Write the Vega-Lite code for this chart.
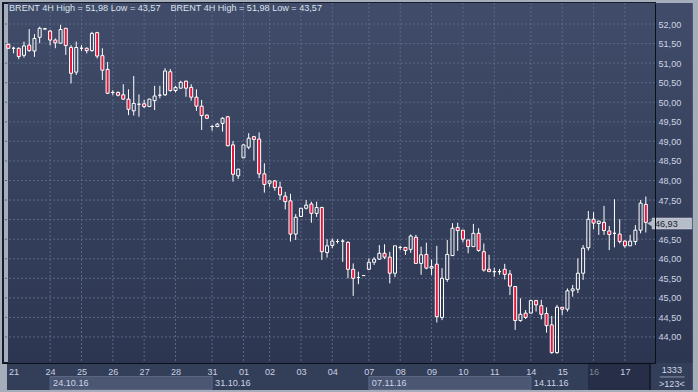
{
 "$schema": "https://vega.github.io/schema/vega-lite/v6.json",
 "width": 652,
 "height": 360,
 "autosize": "none",
 "padding": {"left": 3, "top": 3, "right": 43, "bottom": 29},
 "background": "#a5adba",
 "config": {"view": {"stroke": "#151b29", "strokeWidth": 2}, "text": {"font": "Liberation Sans"}},
 "resolve": {"axis": {"x": "independent", "y": "independent"}},
 "datasets": {
  "candles": [
   {"i":0,"o":51.48,"h":51.50,"l":51.37,"c":51.38},
   {"i":1,"o":51.38,"h":51.42,"l":51.25,"c":51.38},
   {"i":2,"o":51.38,"h":51.40,"l":51.10,"c":51.17},
   {"i":3,"o":51.20,"h":51.55,"l":51.14,"c":51.44},
   {"i":4,"o":51.46,"h":51.87,"l":51.29,"c":51.32},
   {"i":5,"o":51.31,"h":51.74,"l":51.16,"c":51.63},
   {"i":6,"o":51.66,"h":51.93,"l":51.51,"c":51.89},
   {"i":7,"o":51.87,"h":51.90,"l":51.86,"c":51.88},
   {"i":8,"o":51.82,"h":51.85,"l":51.45,"c":51.59},
   {"i":9,"o":51.59,"h":51.63,"l":51.38,"c":51.52},
   {"i":10,"o":51.51,"h":51.98,"l":51.50,"c":51.86},
   {"i":11,"o":51.89,"h":51.90,"l":51.21,"c":51.45},
   {"i":12,"o":51.40,"h":51.46,"l":50.48,"c":50.74},
   {"i":13,"o":50.77,"h":51.55,"l":50.70,"c":51.40},
   {"i":14,"o":51.38,"h":51.46,"l":51.31,"c":51.38},
   {"i":15,"o":51.38,"h":51.40,"l":51.25,"c":51.32},
   {"i":16,"o":51.32,"h":51.80,"l":51.29,"c":51.76},
   {"i":17,"o":51.78,"h":51.80,"l":51.12,"c":51.18},
   {"i":18,"o":51.19,"h":51.38,"l":50.57,"c":50.82},
   {"i":19,"o":50.84,"h":51.03,"l":50.21,"c":50.23},
   {"i":20,"o":50.25,"h":50.31,"l":50.18,"c":50.25},
   {"i":21,"o":50.25,"h":50.28,"l":50.15,"c":50.18},
   {"i":22,"o":50.19,"h":50.46,"l":50.06,"c":50.08},
   {"i":23,"o":50.08,"h":50.33,"l":49.67,"c":49.82},
   {"i":24,"o":49.78,"h":50.67,"l":49.66,"c":49.97},
   {"i":25,"o":49.95,"h":50.20,"l":49.63,"c":49.95},
   {"i":26,"o":49.96,"h":50.06,"l":49.85,"c":49.89},
   {"i":27,"o":49.89,"h":50.09,"l":49.88,"c":50.08},
   {"i":28,"o":50.04,"h":50.42,"l":49.80,"c":50.16},
   {"i":29,"o":50.18,"h":50.42,"l":50.10,"c":50.18},
   {"i":30,"o":50.19,"h":50.87,"l":50.16,"c":50.80},
   {"i":31,"o":50.78,"h":50.85,"l":50.27,"c":50.30},
   {"i":32,"o":50.30,"h":50.42,"l":50.25,"c":50.38},
   {"i":33,"o":50.36,"h":50.55,"l":50.35,"c":50.51},
   {"i":34,"o":50.54,"h":50.55,"l":50.14,"c":50.36},
   {"i":35,"o":50.38,"h":50.46,"l":50.04,"c":50.13},
   {"i":36,"o":50.13,"h":50.33,"l":49.78,"c":49.90},
   {"i":37,"o":49.90,"h":50.06,"l":49.29,"c":49.66},
   {"i":38,"o":49.67,"h":49.69,"l":49.57,"c":49.59},
   {"i":39,"o":49.38,"h":49.42,"l":49.27,"c":49.38},
   {"i":40,"o":49.38,"h":49.47,"l":49.36,"c":49.44},
   {"i":41,"o":49.46,"h":49.62,"l":49.25,"c":49.59},
   {"i":42,"o":49.63,"h":49.65,"l":48.87,"c":48.89},
   {"i":43,"o":48.91,"h":49.01,"l":47.97,"c":48.16},
   {"i":44,"o":48.12,"h":48.30,"l":48.04,"c":48.29},
   {"i":45,"o":48.58,"h":48.92,"l":48.58,"c":48.91},
   {"i":46,"o":48.85,"h":49.21,"l":48.80,"c":49.08},
   {"i":47,"o":49.12,"h":49.14,"l":48.51,"c":49.05},
   {"i":48,"o":49.06,"h":49.23,"l":48.06,"c":48.17},
   {"i":49,"o":48.17,"h":48.44,"l":47.69,"c":47.90},
   {"i":50,"o":47.93,"h":47.99,"l":47.84,"c":47.99},
   {"i":51,"o":47.99,"h":48.01,"l":47.74,"c":47.82},
   {"i":52,"o":47.83,"h":47.97,"l":47.50,"c":47.63},
   {"i":53,"o":47.60,"h":47.71,"l":47.26,"c":47.46},
   {"i":54,"o":47.48,"h":47.66,"l":46.44,"c":46.63},
   {"i":55,"o":46.63,"h":47.14,"l":46.48,"c":47.06},
   {"i":56,"o":47.08,"h":47.29,"l":47.07,"c":47.29},
   {"i":57,"o":47.29,"h":47.50,"l":47.26,"c":47.37},
   {"i":58,"o":47.40,"h":47.46,"l":46.92,"c":47.16},
   {"i":59,"o":47.16,"h":47.46,"l":47.07,"c":47.31},
   {"i":60,"o":47.31,"h":47.33,"l":45.97,"c":46.18},
   {"i":61,"o":46.16,"h":46.50,"l":46.03,"c":46.33},
   {"i":62,"o":46.34,"h":46.52,"l":46.27,"c":46.45},
   {"i":63,"o":46.44,"h":46.50,"l":46.39,"c":46.44},
   {"i":64,"o":46.45,"h":46.50,"l":45.92,"c":46.45},
   {"i":65,"o":46.42,"h":46.44,"l":45.50,"c":45.73},
   {"i":66,"o":45.73,"h":45.88,"l":45.05,"c":45.50},
   {"i":67,"o":45.52,"h":45.67,"l":45.35,"c":45.52},
   {"i":68,"o":45.57,"h":45.57,"l":45.57,"c":45.57},
   {"i":69,"o":45.73,"h":46.01,"l":45.71,"c":45.91},
   {"i":70,"o":45.91,"h":46.04,"l":45.84,"c":45.99},
   {"i":71,"o":45.99,"h":46.35,"l":45.97,"c":46.14},
   {"i":72,"o":46.14,"h":46.37,"l":45.99,"c":46.04},
   {"i":73,"o":46.04,"h":46.18,"l":45.37,"c":45.63},
   {"i":74,"o":45.63,"h":46.33,"l":45.53,"c":46.33},
   {"i":75,"o":46.29,"h":46.33,"l":46.22,"c":46.29},
   {"i":76,"o":46.29,"h":46.30,"l":46.10,"c":46.21},
   {"i":77,"o":46.24,"h":46.62,"l":46.15,"c":46.58},
   {"i":78,"o":46.55,"h":46.61,"l":45.87,"c":45.88},
   {"i":79,"o":45.88,"h":46.31,"l":45.59,"c":46.10},
   {"i":80,"o":46.11,"h":46.41,"l":45.73,"c":45.76},
   {"i":81,"o":45.76,"h":45.98,"l":45.58,"c":45.80},
   {"i":82,"o":45.86,"h":46.33,"l":44.37,"c":44.52},
   {"i":83,"o":44.50,"h":45.76,"l":44.43,"c":45.50},
   {"i":84,"o":45.47,"h":46.48,"l":45.41,"c":46.11},
   {"i":85,"o":46.08,"h":46.91,"l":46.07,"c":46.78},
   {"i":86,"o":46.80,"h":46.92,"l":46.20,"c":46.72},
   {"i":87,"o":46.73,"h":46.73,"l":46.42,"c":46.50},
   {"i":88,"o":46.48,"h":46.48,"l":46.14,"c":46.31},
   {"i":89,"o":46.31,"h":46.89,"l":46.31,"c":46.65},
   {"i":90,"o":46.65,"h":46.78,"l":46.18,"c":46.21},
   {"i":91,"o":46.18,"h":46.39,"l":45.67,"c":45.71},
   {"i":92,"o":45.73,"h":46.10,"l":45.67,"c":45.67},
   {"i":93,"o":45.67,"h":45.77,"l":45.54,"c":45.67},
   {"i":94,"o":45.67,"h":45.74,"l":45.59,"c":45.67},
   {"i":95,"o":45.73,"h":45.87,"l":45.47,"c":45.60},
   {"i":96,"o":45.61,"h":45.71,"l":45.07,"c":45.30},
   {"i":97,"o":45.29,"h":45.29,"l":44.18,"c":44.42},
   {"i":98,"o":44.42,"h":44.99,"l":44.39,"c":44.58},
   {"i":99,"o":44.61,"h":44.69,"l":44.46,"c":44.50},
   {"i":100,"o":44.61,"h":44.95,"l":44.60,"c":44.93},
   {"i":101,"o":44.93,"h":44.95,"l":44.65,"c":44.82},
   {"i":102,"o":44.80,"h":44.95,"l":44.45,"c":44.58},
   {"i":103,"o":44.60,"h":44.76,"l":44.11,"c":44.29},
   {"i":104,"o":44.31,"h":44.54,"l":43.57,"c":43.60},
   {"i":105,"o":43.60,"h":44.82,"l":43.57,"c":44.76},
   {"i":106,"o":44.76,"h":44.76,"l":44.56,"c":44.71},
   {"i":107,"o":44.71,"h":45.24,"l":44.65,"c":45.18},
   {"i":108,"o":45.18,"h":45.33,"l":45.03,"c":45.23},
   {"i":109,"o":45.22,"h":46.01,"l":45.12,"c":45.63},
   {"i":110,"o":45.63,"h":46.35,"l":45.46,"c":46.27},
   {"i":111,"o":46.28,"h":47.22,"l":46.21,"c":47.01},
   {"i":112,"o":47.01,"h":47.19,"l":46.75,"c":46.91},
   {"i":113,"o":46.90,"h":46.97,"l":46.61,"c":46.96},
   {"i":114,"o":46.93,"h":47.35,"l":46.61,"c":46.72},
   {"i":115,"o":46.71,"h":46.84,"l":46.22,"c":46.62},
   {"i":116,"o":46.65,"h":47.52,"l":46.29,"c":46.65},
   {"i":117,"o":46.63,"h":47.01,"l":46.39,"c":46.44},
   {"i":118,"o":46.45,"h":46.47,"l":46.28,"c":46.33},
   {"i":119,"o":46.33,"h":46.61,"l":46.33,"c":46.45},
   {"i":120,"o":46.44,"h":46.86,"l":46.35,"c":46.73},
   {"i":121,"o":46.73,"h":47.50,"l":46.65,"c":47.42},
   {"i":122,"o":47.39,"h":47.59,"l":46.67,"c":46.93}
  ],
  "vgrid": [{"i":8},{"i":14},{"i":20},{"i":26},{"i":32},{"i":39},{"i":45},{"i":50},{"i":56},{"i":62},{"i":69},{"i":75},{"i":81},{"i":87},{"i":93},{"i":100},{"i":106},{"i":112},{"i":118}],
  "hgrid": [{"p":44},{"p":44.5},{"p":45},{"p":45.5},{"p":46},{"p":46.5},{"p":47},{"p":47.5},{"p":48},{"p":48.5},{"p":49},{"p":49.5},{"p":50},{"p":50.5},{"p":51},{"p":51.5},{"p":52}],
  "weeks": [{"i":8,"label":"24.10.16"},{"i":39,"label":"31.10.16"},{"i":69,"label":"07.11.16"},{"i":100,"label":"14.11.16"}],
  "bands": [{"a":8,"b":39},{"a":69,"b":100}],
  "last": [{"label":"46,93"}],
  "corner": [{"bars":"1333","shown":">123<"}],
  "header": [{"label":"BRENT 4H High = 51,98 Low = 43,57"}]
 },
 "layer": [
  {
   "data": {"values": [{}]},
   "mark": {"type": "rect", "clip": false, "fill": {"gradient": "linear", "x1": 0, "y1": 0, "x2": 0, "y2": 1, "stops": [{"offset": 0, "color": "#404c69"}, {"offset": 1, "color": "#2c3651"}]}},
   "encoding": {
    "x": {"datum": -0.06, "type": "quantitative", "scale": {"domain": [-0.06, 122.8], "nice": false, "zero": false}, "axis": null},
    "x2": {"datum": 131},
    "y": {"datum": 52.537, "type": "quantitative", "scale": {"domain": [43.335, 52.537], "nice": false, "zero": false}, "axis": null},
    "y2": {"datum": 43.335}
   }
  },
  {
   "data": {"values": [{}]},
   "mark": {"type": "rect", "clip": false, "fill": "#333e59"},
   "encoding": {
    "x": {"datum": -0.25, "type": "quantitative", "axis": null},
    "x2": {"datum": 131},
    "y": {"datum": 43.335, "type": "quantitative", "axis": null},
    "y2": {"datum": 42.646}
   }
  },
  {
   "data": {"name": "bands"},
   "mark": {"type": "rect", "clip": false, "fill": "#4a5672", "stroke": "#5b6783", "strokeWidth": 1},
   "encoding": {
    "x": {"field": "a", "type": "quantitative", "axis": null},
    "x2": {"field": "b"},
    "y": {"datum": 42.99, "type": "quantitative", "axis": null},
    "y2": {"datum": 42.66}
   }
  },
  {
   "data": {"values": [{}]},
   "mark": {"type": "rect", "clip": false, "fill": "#262f47", "stroke": "#1f273b", "strokeWidth": 1},
   "encoding": {
    "x": {"datum": 111.1, "type": "quantitative", "axis": null},
    "x2": {"datum": 122.8},
    "y": {"datum": 43.33, "type": "quantitative", "axis": null},
    "y2": {"datum": 42.67}
   }
  },
  {
   "data": {"values": [{}]},
   "mark": {"type": "rule", "color": "#0b0f18", "strokeWidth": 1, "clip": false},
   "encoding": {
    "x": {"datum": 122.8, "type": "quantitative", "axis": null},
    "y": {"datum": 43.335, "type": "quantitative", "axis": null},
    "y2": {"datum": 42.646}
   }
  },
  {
   "data": {"name": "vgrid"},
   "mark": {"type": "rule", "color": "#5b6886", "strokeWidth": 1, "strokeDash": [2, 2]},
   "encoding": {
    "x": {"field": "i", "type": "quantitative", "axis": {
      "orient": "bottom", "title": null, "grid": false, "ticks": false, "tickSize": 0,
      "values": [1,8,14,20,26,32,39,45,50,56,62,69,75,81,87,93,100,106,112,118],
      "labelExpr": "['21','24','25','26','27','28','31','01','02','03','04','07','08','09','10','11','14','15','16','17'][indexof([1,8,14,20,26,32,39,45,50,56,62,69,75,81,87,93,100,106,112,118], datum.value)]",
      "labelColor": {"condition": {"test": "datum.value == 112", "value": "#7f889b"}, "value": "#c9d1e2"},
      "labelFont": "Liberation Sans", "labelFontSize": 9.1, "labelPadding": 4,
      "labelAlign": "center", "labelBaseline": "top", "labelFlush": false, "labelOverlap": false,
      "domain": true, "domainColor": "#0b0f18", "domainWidth": 1, "zindex": 1}}
   }
  },
  {
   "data": {"name": "hgrid"},
   "mark": {"type": "rule", "color": "#5b6886", "strokeWidth": 1, "strokeDash": [2, 2]},
   "encoding": {
    "y": {"field": "p", "type": "quantitative", "axis": {
      "orient": "right", "title": null, "grid": false, "ticks": false, "tickSize": 0,
      "values": [44,44.5,45,45.5,46,46.5,47.5,48,48.5,49,49.5,50,50.5,51,51.5,52],
      "labelExpr": "replace(format(datum.value, '.2f'), '.', ',')",
      "labelColor": "#cdd5e5", "labelFont": "Liberation Sans", "labelFontSize": 9.1, "labelPadding": 3,
      "labelAlign": "left", "labelBaseline": "middle", "labelFlush": false, "labelOverlap": false,
      "domain": true, "domainColor": "#0b0f18", "domainWidth": 1, "zindex": 1}}
   }
  },
  {
   "data": {"name": "candles"},
   "mark": {"type": "rule", "color": "#ffffff", "strokeWidth": 1},
   "encoding": {
    "x": {"field": "i", "type": "quantitative", "axis": null},
    "y": {"field": "h", "type": "quantitative", "axis": null},
    "y2": {"field": "c"}
   }
  },
  {
   "data": {"name": "candles"},
   "mark": {"type": "rule", "color": "#ffffff", "strokeWidth": 1},
   "encoding": {
    "x": {"field": "i", "type": "quantitative", "axis": null},
    "y": {"field": "o", "type": "quantitative", "axis": null},
    "y2": {"field": "l"}
   }
  },
  {
   "data": {"name": "candles"},
   "mark": {"type": "bar", "width": 3, "stroke": "#ffffff", "strokeWidth": 1},
   "encoding": {
    "x": {"field": "i", "type": "quantitative", "axis": null},
    "y": {"field": "o", "type": "quantitative", "axis": null},
    "y2": {"field": "c"},
    "fill": {"condition": {"test": "datum.c < datum.o", "value": "#e3173e"}, "value": "transparent"}
   }
  },
  {
   "data": {"name": "weeks"},
   "mark": {"type": "text", "align": "left", "baseline": "middle", "dx": 3, "fontSize": 9.1, "color": "#cdd5e5", "clip": false},
   "encoding": {
    "x": {"field": "i", "type": "quantitative", "axis": null},
    "y": {"datum": 42.832, "type": "quantitative", "axis": null},
    "text": {"field": "label"}
   }
  },
  {
   "data": {"name": "last"},
   "mark": {"type": "rect", "clip": false, "fill": "#b6bdc9", "stroke": "#d8dde5", "strokeWidth": 0.5},
   "encoding": {
    "x": {"datum": 123.2, "type": "quantitative", "axis": null},
    "x2": {"datum": 130.8},
    "y": {"datum": 47.04, "type": "quantitative", "axis": null},
    "y2": {"datum": 46.76}
   }
  },
  {
   "data": {"name": "last"},
   "mark": {"type": "point", "shape": "triangle-left", "size": 36, "filled": true, "fill": "#b6bdc9", "opacity": 1, "strokeWidth": 0, "clip": false},
   "encoding": {
    "x": {"datum": 122.75, "type": "quantitative", "axis": null},
    "y": {"datum": 46.9, "type": "quantitative", "axis": null}
   }
  },
  {
   "data": {"name": "last"},
   "mark": {"type": "text", "align": "left", "baseline": "middle", "fontSize": 9.1, "color": "#1c2333", "clip": false},
   "encoding": {
    "x": {"datum": 123.75, "type": "quantitative", "axis": null},
    "y": {"datum": 46.9, "type": "quantitative", "axis": null},
    "text": {"field": "label"}
   }
  },
  {
   "data": {"name": "corner"},
   "mark": {"type": "text", "align": "center", "baseline": "middle", "fontSize": 9.1, "color": "#d0d8e6", "clip": false},
   "encoding": {
    "x": {"datum": 126.98, "type": "quantitative", "axis": null},
    "y": {"datum": 43.157, "type": "quantitative", "axis": null},
    "text": {"field": "bars"}
   }
  },
  {
   "data": {"name": "corner"},
   "mark": {"type": "rule", "color": "#8a94a8", "strokeWidth": 1, "clip": false},
   "encoding": {
    "x": {"datum": 124.69, "type": "quantitative", "axis": null},
    "x2": {"datum": 129.4},
    "y": {"datum": 42.978, "type": "quantitative", "axis": null}
   }
  },
  {
   "data": {"name": "corner"},
   "mark": {"type": "text", "align": "center", "baseline": "middle", "fontSize": 9.1, "color": "#d0d8e6", "clip": false},
   "encoding": {
    "x": {"datum": 126.98, "type": "quantitative", "axis": null},
    "y": {"datum": 42.799, "type": "quantitative", "axis": null},
    "text": {"field": "shown"}
   }
  },
  {
   "data": {"name": "header"},
   "mark": {"type": "text", "align": "left", "baseline": "middle", "fontSize": 9.1, "color": "#dde3ee"},
   "encoding": {
    "x": {"datum": 0.13, "type": "quantitative", "axis": null},
    "y": {"datum": 52.41, "type": "quantitative", "axis": null},
    "text": {"field": "label"}
   }
  },
  {
   "data": {"name": "header"},
   "mark": {"type": "text", "align": "left", "baseline": "middle", "fontSize": 9.1, "color": "#dde3ee"},
   "encoding": {
    "x": {"datum": 31.03, "type": "quantitative", "axis": null},
    "y": {"datum": 52.41, "type": "quantitative", "axis": null},
    "text": {"field": "label"}
   }
  }
 ]
}
